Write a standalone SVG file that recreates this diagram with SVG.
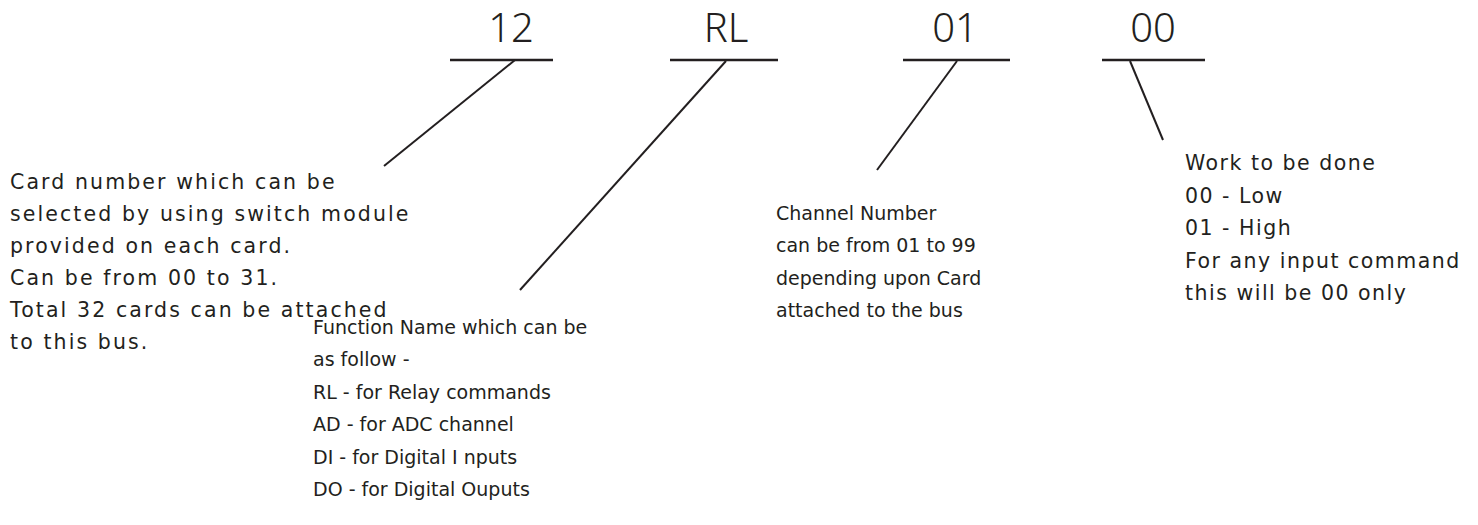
<svg xmlns="http://www.w3.org/2000/svg" width="1478" height="525" viewBox="0 0 1478 525">
<style>
.big{font-family:"Noto Sans","DejaVu Sans",sans-serif;font-size:40px;font-weight:300;fill:#231f20;text-anchor:middle}
.t{font-family:"DejaVu Sans","Liberation Sans",sans-serif;font-size:19px;fill:#231f20}
.w{font-size:20.5px;letter-spacing:1.5px}
.l{letter-spacing:2.1px}
.bar{stroke:#231f20;stroke-width:2.5;fill:none}
.ln{stroke:#231f20;stroke-width:2;fill:none}
</style>
<rect width="1478" height="525" fill="#fff"/>
<g id="field-card">
<text class="big" x="511" y="42">12</text>
<line class="bar" x1="450" y1="60" x2="553" y2="60"/>
</g>
<g id="field-function">
<text class="big" x="726" y="42">RL</text>
<line class="bar" x1="670" y1="60" x2="778" y2="60"/>
</g>
<g id="field-channel">
<text class="big" x="955" y="42">01</text>
<line class="bar" x1="903" y1="60" x2="1010" y2="60"/>
</g>
<g id="field-work">
<text class="big" x="1153" y="42">00</text>
<line class="bar" x1="1102" y1="60" x2="1205" y2="60"/>
</g>
<g id="connectors">
<line class="ln" x1="515" y1="60" x2="384" y2="166"/>
<line class="ln" x1="726" y1="61" x2="520" y2="290"/>
<line class="ln" x1="957" y1="61" x2="877" y2="170"/>
<line class="ln" x1="1130" y1="61" x2="1163" y2="140"/>
</g>
<g id="note-card">
<text class="t w l" x="10" y="189">Card number which can be</text>
<text class="t w l" x="10" y="221">selected by using switch module</text>
<text class="t w l" x="10" y="253">provided on each card.</text>
<text class="t w l" x="10" y="285">Can be from 00 to 31.</text>
<text class="t w l" x="10" y="317">Total 32 cards can be attached</text>
<text class="t w l" x="10" y="349">to this bus.</text>
</g>
<g id="note-function">
<text class="t" x="313" y="334">Function Name which can be</text>
<text class="t" x="313" y="366">as follow -</text>
<text class="t" x="313" y="399">RL - for Relay commands</text>
<text class="t" x="313" y="431">AD - for ADC channel</text>
<text class="t" x="313" y="464">DI - for Digital I nputs</text>
<text class="t" x="313" y="496">DO - for Digital Ouputs</text>
</g>
<g id="note-channel">
<text class="t" x="776" y="220">Channel Number</text>
<text class="t" x="776" y="252">can be from 01 to 99</text>
<text class="t" x="776" y="285">depending upon Card</text>
<text class="t" x="776" y="317">attached to the bus</text>
</g>
<g id="note-work">
<text class="t w" x="1185" y="170">Work to be done</text>
<text class="t w" x="1185" y="203">00 - Low</text>
<text class="t w" x="1185" y="235">01 - High</text>
<text class="t w" x="1185" y="268">For any input command</text>
<text class="t w" x="1185" y="300">this will be 00 only</text>
</g>
</svg>
